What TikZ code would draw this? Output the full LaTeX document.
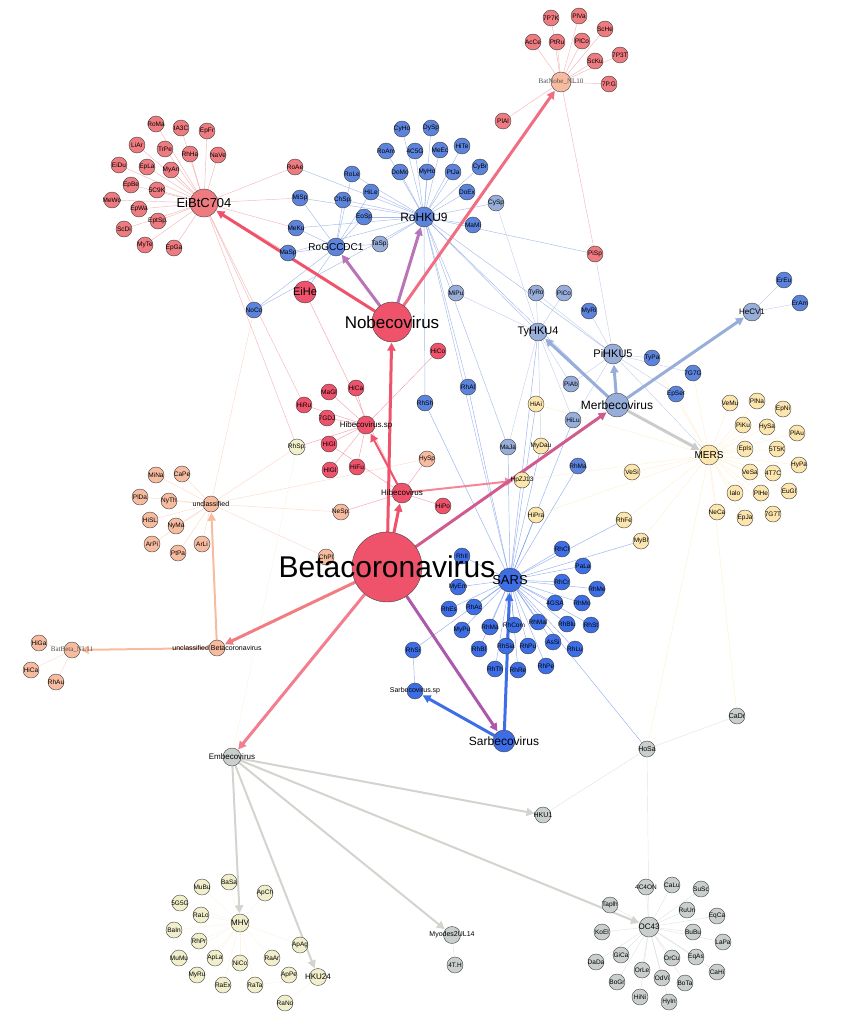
\documentclass[tikz,border=0pt]{standalone}
\usepackage{fontspec}
\setmainfont{Liberation Sans}
\newfontfamily\timesf{Liberation Serif}
\usetikzlibrary{arrows.meta,positioning}
\pgfdeclarelayer{bg}
\pgfsetlayers{bg,main}
\definecolor{cR}{HTML}{EF536B}
\definecolor{cRl}{HTML}{EE7B80}
\definecolor{cP}{HTML}{F7BCA0}
\definecolor{cB}{HTML}{5C84DD}
\definecolor{cBd}{HTML}{3E6EE6}
\definecolor{cBl}{HTML}{98AEDA}
\definecolor{cY}{HTML}{FCE6AE}
\definecolor{cG}{HTML}{F1EFCB}
\definecolor{cGr}{HTML}{C9CFCD}
\tikzset{
  leaf/.style={circle,draw=black!75,line width=0.4pt,minimum size=16pt,inner sep=0pt,fill=#1},
  lf/.style={font=\fontsize{6.5}{6.5}\selectfont,inner sep=0pt},
  lab/.style={font=\fontsize{#1}{#1}\selectfont,inner sep=0pt},
  ln/.style={draw=#1,line width=0.45pt,opacity=0.55},
  arr/.style={draw=#1,line width=3pt,-{Triangle[length=8pt,width=8pt]},shorten >=0.5pt},
}
\begin{document}
\begin{tikzpicture}[x=1pt,y=-1pt]
\useasboundingbox (0,0) rectangle (848,1025);
% main hubs
\node[leaf=cR,minimum size=70pt] (beta) at (387,567) {};
\node[leaf=cR,minimum size=40pt] (nobe) at (392,322) {};
\node[leaf=cR,minimum size=20pt] (hibe) at (402,493) {};
\node[leaf=cR,minimum size=18pt] (hibsp) at (366,425) {};
\node[leaf=cBl,minimum size=24pt] (merb) at (617,405) {};
\node[leaf=cBd,minimum size=22pt] (sarb) at (504,741) {};
\node[leaf=cBd,minimum size=24pt] (sars) at (510,580) {};
\node[leaf=cGr,minimum size=18pt] (embe) at (232,757) {};
\node[leaf=cP,minimum size=16pt] (ubeta) at (217,648) {};
\node[leaf=cP,minimum size=16pt] (uncl) at (211,504) {};
\node[leaf=cP,minimum size=16pt] (bnl11) at (72,650) {};
\node[leaf=cRl,minimum size=28pt] (ebtc) at (204,203) {};
\node[leaf=cB,minimum size=20pt] (rohku) at (424,217) {};
\node[leaf=cB,minimum size=18pt] (rogc) at (336,247) {};
\node[leaf=cP,minimum size=20pt] (bnl10) at (561,82) {};
\node[leaf=cBl,minimum size=18pt] (tyhku) at (538,332) {};
\node[leaf=cBl,minimum size=20pt] (pihku) at (613,354) {};
\node[leaf=cBl,minimum size=18pt] (hecv) at (752,312) {};
\node[leaf=cY,minimum size=20pt] (mers) at (709,455) {};
\node[leaf=cBd,minimum size=16pt] (sarsp) at (415,691) {};
\node[leaf=cG,minimum size=18pt] (mhv) at (240,923) {};
\node[leaf=cG,minimum size=17pt] (hku24) at (318,977) {};
\node[leaf=cGr,minimum size=17pt] (myod) at (452,935) {};
\node[leaf=cGr,minimum size=20pt] (oc43) at (649,927) {};
\node[leaf=cGr,minimum size=16pt] (hku1) at (543,815) {};
\node[leaf=cGr,minimum size=16pt] (hosa) at (647,749) {};
\node[leaf=cGr,minimum size=16pt] (cadr) at (737,716) {};
\node[leaf=cR,minimum size=22pt] (eihe) at (305,292) {};
% leaves
\foreach \n/\t/\x/\y/\c in {
  roma/RoMa/156/124/cRl, iatc/IA3C/181/128/cRl, epfr/EpFr/207/131/cRl, liar/LiAr/137/145/cRl,
  trpe/TrPe/165/149/cRl, rhha/RhHa/190/154/cRl, nave/NaVe/218/155/cRl, eidu/EiDu/119/165/cRl,
  epla/EpLa/147/167/cRl, myan/MyAn/171/170/cRl, epbe/EpBe/131/185/cRl, fcnk/5C9K/157/190/cRl,
  mewo/MeWo/112/200/cRl, epwa/EpWa/139/209/cRl, eptsp/EptSp./158/221/cRl, scdi/ScDi/124/229/cRl,
  myte/MyTe/145/245/cRl, epga/EpGa/174/248/cRl, roae/RoAe/295/167/cRl,
  misp/MiSp/300/198/cB, chsp/ChSp./343/200/cB, role/RoLe/352/174/cB, hile/HiLe/371/192/cB,
  eosp/EoSp/364/217/cB, meku/MeKu/296/228/cB, masp/MaSp/288/253/cB, tasp/TaSp./380/244/cBl,
  noco/NoCo/254/310/cB,
  cyho/CyHo/402/129/cB, dysp/DySp/431/128/cB, roam/RoAm/386/151/cB, cfcg/4C5G/415/151/cB,
  meec/MeEc/440/150/cB, hite/HiTe/462/146/cB, domo/DoMo/400/172/cB, myho/MyHo/427/172/cB,
  ptja/PtJa/453/172/cB, cybr/CyBr/480/167/cB, doex/DoEx/467/192/cB, cysp/CySp/496/203/cBl,
  mami/MaMi/473/225/cB, plal/PlAl/503/121/cRl, pisp/PiSp/595/254/cRl,
  spk/7P7K/551/18/cRl, plva/PlVa/579/16/cRl, sche/ScHe/605/29/cRl, acce/AcCe/533/42/cRl,
  ptru/PtRu/557/42/cRl, plco/PlCo/582/41/cRl, scku/ScKu/595/61/cRl, sptt/7P3T/620/55/cRl,
  spg/7P.G/609/84/cRl,
  mipu/MiPu/456/293/cBl, tyro/TyRo/536/293/cBl, pico/PiCo/564/293/cBl, myri/MyRi/589/311/cB,
  hico/HiCo/438/351/cR, rhal/RhAl/468/387/cB, rhsh/RhSh/425/403/cB, piab/PiAb/571/384/cBl,
  hiai/HiAi/536/404/cY, hilu/HiLu/573/420/cBl, maja/MaJa/508/447/cBl, mydau/MyDau/541/446/cY,
  hpzj/HpZJ13/522/480/cY, rhma/RhMa/578/466/cB, vesi/VeSi/632/472/cY, hipra/HiPra/536/515/cY,
  rhfe/RhFe/624/520/cY, mybl/MyBl/641/541/cY,
  magl/MaGl/329/392/cR, hica/HiCa/356/388/cR, hiru/HiRu/304/405/cR, sgdj/7GDJ/327/418/cR,
  higl/HiGl/329/444/cR, hlgl/HlGl/330/470/cR, hifu/HiFu/357/467/cR, rhsp/RhSp./297/447/cG,
  nesp/NeSp./341/512/cP, chpl/ChPl/326/557/cP, hysp/HySp/427/459/cP, hipo/HiPo/443/506/cR,
  mina/MiNa/156/475/cP, cape/CaPe/182/474/cP, plda/PlDa/140/497/cP, nyth/NyTh/169/501/cP,
  hisl/HiSL/150/520/cP, nyma/NyMa/176/526/cP, arpi/ArPi/152/544/cP, ptpa/PtPa/178/553/cP,
  arli/ArLi/202/544/cP, higa/HiGa/39/643/cP, hicb/HiCa/31/670/cP, rhau/RhAu/56/682/cP,
  rhil/RhIl/462/556/cBd, myem/MyEm/458/587/cBd, rhcl/RhCl/562/549/cBd, pala/PaLa/583/566/cBd,
  rhcr/RhCr/562/582/cBd, rhme/RhMe/597/589/cBd, fgsa/4GSA/555/603/cBd, rhmo/RhMo/582/603/cBd,
  rhes/RhEs/449/609/cBd, rhac/RhAc/474/607/cBd, mypu/MyPu/462/630/cBd, rhmb/RhMa/490/627/cBd,
  rhcom/RhCom/514/625/cBd, rhmal/RhMal/538/622/cBd, rhblu/RhBlu/567/624/cBd, rhst/RhSt/591/625/cBd,
  rhbl/RhBl/479/649/cBd, rhsia/RhSia/506/646/cBd, rhpu/RhPu/528/646/cBd, assi/AsSi/553/642/cBd,
  rhlu/RhLu/575/649/cBd, rhth/RhTh/495/669/cBd, rhre/RhRe/518/670/cBd, rhpe/RhPe/546/666/cBd,
  rhsi/RhSi/413/650/cBd,
  ereu/ErEu/784/280/cB, eram/ErAm/800/303/cB, sgsg/7G7G/693/373/cB, epser/EpSer/676/394/cB,
  typa/TyPa/652/358/cB,
  vemu/VeMu/730/403/cY, plna/PlNa/757/401/cY, epni/EpNi/783/409/cY, piku/PiKu/743/425/cY,
  hysa/HySa/767/427/cY, plau/PlAu/797/433/cY, epis/EpIs/745/449/cY, ftfk/5T5K/777/449/cY,
  hypa/HyPa/799/465/cY, vesa/VeSa/750/472/cY, ftsc/4T7C/773/473/cY, ialo/Ialo/735/493/cY,
  plhe/PlHe/761/493/cY, eugl/EuGl/789/491/cY, neca/NeCa/717/512/cY, epja/EpJa/745/518/cY,
  sgst/7G7T/773/514/cY,
  basa/BaSa/229/882/cG, mubu/MuBu/202/887/cG, apch/ApCh/265/893/cG, fgfg/5G5G/180/903/cG,
  ralo/RaLo/201/915/cG, bain/BaIn/174/930/cG, rhpr/RhPr/199/941/cG, apag/ApAg/300/945/cG,
  mumu/MuMu/179/958/cG, apla/ApLa/215/958/cG, nico/NiCo/240/963/cG, raar/RaAr/272/958/cG,
  myru/MyRu/197/975/cG, raex/RaEx/223/985/cG, rata/RaTa/255/985/cG, rano/RaNo/285/1003/cG,
  appe/ApPe/289/975/cG, fth/4T.H/455/965/cGr,
  fcfo/4C4ON/646/887/cGr, calu/CaLu/672/885/cGr, susc/SuSc/701/889/cGr, tapl/Taplh/610/905/cGr,
  ruun/RuUn/687/910/cGr, eqca/EqCa/717/916/cGr, koel/KoEl/602/932/cGr, bubu/BuBu/693/932/cGr,
  lapa/LaPa/723/942/cGr, dada/DaDa/596/962/cGr, gica/GiCa/621/955/cGr, orcu/OrCu/672/958/cGr,
  eqas/EqAs/696/957/cGr, cahi/CaHi/717/972/cGr, orle/OrLe/642/970/cGr, odvi/OdVi/662/978/cGr,
  bogr/BoGr/617/982/cGr, bota/BoTa/685/983/cGr, hini/HiNi/640/997/cGr, hyin/HyIn/669/1002/cGr}
  \node[leaf=\c,label={[lf]center:\t}] (\n) at (\x,\y) {};
% hub labels
\node[lab=30] at (beta) {Betacoronavirus};
\node[lab=17] at (nobe) {Nobecovirus};
\node[lab=8] at (hibe) {Hibecovirus};
\node[lab=8] at (hibsp) {Hibecovirus.sp};
\node[lab=12] at (merb) {Merbecovirus};
\node[lab=12] at (sarb) {Sarbecovirus};
\node[lab=13] at (sars) {SARS};
\node[lab=8] at (embe) {Embecovirus};
\node[lab=7] at (ubeta) {unclassified Betacoronavirus};
\node[lab=7] at (uncl) {unclassified};
\node[lab=7,text=black!70] at (bnl11) {\timesf BatBeta\_NL11};
\node[lab=7,text=black!70] at (bnl10) {\timesf BatNobe\_NL10};
\node[lab=13] at (ebtc) {EiBtC704};
\node[lab=12] at (rohku) {RoHKU9};
\node[lab=10] at (rogc) {RoGCCDC1};
\node[lab=11] at (tyhku) {TyHKU4};
\node[lab=11] at (pihku) {PiHKU5};
\node[lab=8] at (hecv) {HeCV1};
\node[lab=10] at (mers) {MERS};
\node[lab=7] at (sarsp) {Sarbecovirus.sp};
\node[lab=8] at (mhv) {MHV};
\node[lab=8] at (hku24) {HKU24};
\node[lab=7] at (myod) {Myodes2UL14};
\node[lab=8] at (oc43) {OC43};
\node[lab=7] at (hku1) {HKU1};
\node[lab=7] at (hosa) {HoSa};
\node[lab=7] at (cadr) {CaDr};
\node[lab=11] at (eihe) {EiHe};
\begin{pgfonlayer}{bg}
% hub to leaf
\foreach \h/\c/\ls in {
  ebtc/cRl/{roma,iatc,epfr,liar,trpe,rhha,nave,eidu,epla,myan,epbe,fcnk,mewo,epwa,eptsp,scdi,myte,epga,roae,misp,meku,masp,noco,rhsp,hiru},
  rohku/cB/{cyho,dysp,roam,cfcg,meec,hite,domo,myho,ptja,cybr,doex,cysp,mami,roae,misp,meku,masp,tasp,chsp,hile,role,eosp,mipu,tyhku,rhsh,rhal,pisp,noco,pihku,sars,merb,maja},
  rogc/cB/{misp,chsp,eosp,role,hile,tasp,meku,masp,noco,eihe},
  bnl10/cRl/{spk,plva,sche,acce,ptru,plco,scku,sptt,spg,plal,pisp},
  tyhku/cBl/{tyro,pico,cysp,piab,hilu,maja,mipu,mydau},
  pihku/cBl/{myri,typa,epser,piab,hilu,sgsg,mers,pisp,tyro},
  hecv/cBl/{ereu,eram},
  mers/cY/{vemu,plna,epni,piku,hysa,plau,epis,ftfk,hypa,vesa,ftsc,ialo,plhe,eugl,neca,epja,sgst,sgsg,epser,typa,vesi,hiai,hipra,hpzj,mybl,hosa,cadr,rhfe},
  sars/cBd/{rhil,myem,rhcl,pala,rhcr,rhme,fgsa,rhmo,rhes,rhac,mypu,rhmb,rhcom,rhmal,rhblu,rhst,rhbl,rhsia,rhpu,assi,rhlu,rhth,rhre,rhpe,rhsi,rhfe,mybl,rhma,maja,mydau,hilu,hipra,rhal,rhsh,tyhku,hosa,hiai},
  hibsp/cR/{magl,hica,hiru,sgdj,higl,hlgl,hifu,hico,rhsp},
  hibe/cR/{hipo,hysp,nesp,higl,eihe},
  uncl/cP/{mina,cape,plda,nyth,hisl,nyma,arpi,ptpa,arli,rhsp,nesp,chpl,hysp,noco},
  bnl11/cP/{higa,hicb,rhau},
  mhv/cG/{basa,mubu,apch,fgfg,ralo,bain,rhpr,apag,mumu,apla,nico,raar,myru,raex,rata},
  hku24/cG/{appe,rano,rata},
  myod/cGr/{fth},
  oc43/cGr/{fcfo,calu,susc,tapl,ruun,eqca,koel,bubu,lapa,dada,gica,orcu,eqas,cahi,orle,odvi,bogr,bota,hini,hyin,hosa},
  sarsp/cBd/{rhsi},
  hosa/cGr/{hku1,cadr},
  embe/cG/{rhsp}}
  \foreach \l in \ls \draw[ln=\c] (\h) -- (\l);
% main arrows
\draw[arr=cR] (beta) -- (nobe);
\draw[arr=cR] (beta) -- (hibe);
\draw[arr=cR,line width=2pt] (hibe) -- (hibsp);
\draw[arr=cR!70!white,line width=2pt] (hibe) -- (hpzj);
\draw[arr=cR!60!violet!80] (beta) -- (merb);
\draw[arr=violet!65] (beta) -- (sarb);
\draw[arr=cR!75!white] (beta) -- (embe);
\draw[arr=cR!60!cP] (beta) -- (ubeta);
\draw[arr=cR] (nobe) -- (ebtc);
\draw[arr=violet!55] (nobe) -- (rogc);
\draw[arr=violet!55] (nobe) -- (rohku);
\draw[arr=cR!85!white] (nobe) -- (bnl10);
\draw[arr=cBl] (merb) -- (tyhku);
\draw[arr=cBl] (merb) -- (pihku);
\draw[arr=cBl] (merb) -- (hecv);
\draw[arr=black!20] (merb) -- (mers);
\draw[arr=cBd] (sarb) -- (sars);
\draw[arr=cBd] (sarb) -- (sarsp);
\draw[arr=cP,line width=2pt] (ubeta) -- (uncl);
\draw[arr=cP,line width=2pt] (ubeta) -- (bnl11);
\foreach \t in {mhv,hku24,myod,oc43,hku1}
  \draw[arr=cGr!80!cG,line width=2pt] (embe) -- (\t);
\end{pgfonlayer}
\end{tikzpicture}
\end{document}
